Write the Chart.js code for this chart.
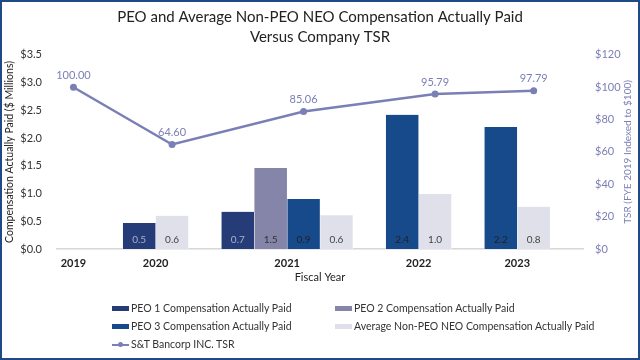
<!DOCTYPE html>
<html>
<head>
<meta charset="utf-8">
<script src="https://cdn.jsdelivr.net/npm/chart.js@4.4.1/dist/chart.umd.min.js"></script>
<style>
  html, body { margin: 0; padding: 0; background: #fff; }
  #wrap { position: relative; width: 640px; height: 360px; overflow: hidden; font-family: Lato, "Open Sans", sans-serif; }
  #frame { position: absolute; left: 0; top: 0; width: 640px; height: 360px; box-sizing: border-box; border: 2px solid #1f4a86; pointer-events: none; }
  #legend { position: absolute; left: 0; top: 0; width: 640px; height: 360px; pointer-events: none; }
  .li { position: absolute; display: flex; align-items: center; font-size: 10.5px; color: #333; white-space: nowrap; height: 14px; }
  .sw { width: 17px; height: 5px; margin-right: 2px; }
  .ln { position: relative; width: 17px; height: 5px; margin-right: 2px; }
  .ln::before { content: ""; position: absolute; left: 0; right: 0; top: 2px; height: 2px; background: var(--c); }
  .ln::after { content: ""; position: absolute; left: 6px; top: 0; width: 5px; height: 5px; border-radius: 50%; background: var(--c); }
</style>
</head>
<body>
<div id="wrap">
  <canvas id="c" width="640" height="360"></canvas>
  <div id="legend"></div>
  <div id="frame"></div>
</div>
<script>
// ---- data ----
const years = ["2019", "2020", "2021", "2022", "2023"];
const peo1 = [null, 0.47, 0.67, null, null];
const peo2 = [null, null, 1.46, null, null];
const peo3 = [null, null, 0.9, 2.42, 2.2];
const nonPeo = [null, 0.6, 0.61, 0.99, 0.76];
const tsr = [100.00, 64.60, 85.06, 95.79, 97.79];
const seriesNames = [
  "PEO 1 Compensation Actually Paid",
  "PEO 2 Compensation Actually Paid",
  "PEO 3 Compensation Actually Paid",
  "Average Non-PEO NEO Compensation Actually Paid"
];
const tsrName = "S&T Bancorp INC. TSR";
const leftTicks = [0, 0.5, 1.0, 1.5, 2.0, 2.5, 3.0, 3.5];
const rightTicks = [0, 20, 40, 60, 80, 100, 120];
const rightTitle = "TSR (FYE 2019 Indexed to $100)";

// ---- styles ----
const barColors = ["#253c78", "#8485a9", "#174a8b", "#e0e0ea"];
const barLabelColors = ["#aab0c8", "#333333", "#222222", "#444444"];
const lineColor = "#7a7fb5";
const FONT = "Lato, 'Open Sans', sans-serif";

// ---- layout of bars into slots (each year's present bars side by side, one gap slot after) ----
const series = [peo1, peo2, peo3, nonPeo];
const barData = series.map(() => []);
const centers = [];
const tsrX = [];
let slot = 0;
years.forEach((y, i) => {
  const start = slot;
  let k = 0;
  series.forEach((s, j) => {
    if (s[i] != null) { barData[j].push({ x: start + k, y: s[i] }); k++; }
  });
  const n = Math.max(1, k);
  const center = start + (n - 1) / 2;
  centers.push(center);
  tsrX.push(Math.ceil(center));
  slot += n + 1;
});
const xMin = -0.5, xMax = slot - 0.5;

const datasets = series.map((s, j) => ({
  type: "bar",
  label: seriesNames[j],
  data: barData[j],
  backgroundColor: barColors[j],
  borderColor: "#ffffff",
  borderWidth: { left: 0.5, right: 0.5, top: 0, bottom: 0 },
  barPercentage: 1,
  categoryPercentage: 1,
  grouped: false,
  yAxisID: "y",
  order: 1,
  labelColor: barLabelColors[j]
}));
datasets.push({
  type: "line",
  label: tsrName,
  data: tsr.map((v, i) => ({ x: tsrX[i], y: v })),
  borderColor: lineColor,
  backgroundColor: lineColor,
  borderWidth: 2.5,
  pointRadius: 3.5,
  pointBackgroundColor: lineColor,
  pointBorderWidth: 0,
  tension: 0,
  yAxisID: "y2",
  order: 0
});

const labelPlugin = {
  id: "valueLabels",
  afterDatasetsDraw(chart) {
    const ctx = chart.ctx;
    ctx.save();
    ctx.textAlign = "center";
    ctx.textBaseline = "middle";
    chart.data.datasets.forEach((ds, di) => {
      const meta = chart.getDatasetMeta(di);
      meta.data.forEach((el, i) => {
        const v = ds.data[i].y;
        if (ds.type === "bar") {
          ctx.font = "10px " + FONT;
          ctx.fillStyle = ds.labelColor;
          ctx.fillText(v.toFixed(1), el.x, chart.scales.y.getPixelForValue(0) - 9);
        } else {
          ctx.font = "11px " + FONT;
          ctx.fillStyle = lineColor;
          ctx.fillText(v.toFixed(2), el.x, el.y - 12);
        }
      });
    });
    // right axis title, reading bottom-to-top
    const ca = chart.chartArea;
    ctx.translate(628, (ca.top + ca.bottom) / 2);
    ctx.rotate(-Math.PI / 2);
    ctx.font = "10px " + FONT;
    ctx.fillStyle = lineColor;
    ctx.fillText(rightTitle, 0, 0);
    ctx.restore();
  }
};

const chart = new Chart(document.getElementById("c"), {
  data: { datasets },
  options: {
    responsive: false,
    animation: false,
    devicePixelRatio: 1,
    layout: { padding: { left: 0, right: 0, top: 0, bottom: 71 } },
    plugins: {
      legend: { display: false },
      tooltip: { enabled: false },
      title: {
        display: true,
        text: ["PEO and Average Non-PEO NEO Compensation Actually Paid", "Versus Company TSR"],
        color: "#222",
        font: { family: FONT, size: 15, weight: "normal", lineHeight: 1.33 },
        padding: { top: 7, bottom: 8 }
      }
    },
    scales: {
      x: {
        type: "linear",
        offset: false,
        min: xMin,
        max: xMax,
        afterBuildTicks: (scale) => { scale.ticks = centers.map(v => ({ value: v })); },
        afterFit: (scale) => { scale.height = 40; },
        ticks: {
          autoSkip: false,
          maxRotation: 0,
          padding: 8,
          color: "#222",
          font: { family: FONT, size: 11, weight: "bold" },
          callback: (v, i) => years[i]
        },
        grid: { display: false, drawTicks: false, offset: false },
        border: { display: true, color: "#d6d6d6", width: 1.5 },
        title: {
          display: true,
          text: "Fiscal Year",
          color: "#222",
          font: { family: FONT, size: 11 },
          padding: { top: 0, bottom: 5 }
        }
      },
      y: {
        position: "left",
        min: 0,
        max: 3.5,
        afterBuildTicks: (scale) => { scale.ticks = leftTicks.map(v => ({ value: v })); },
        afterFit: (scale) => { scale.width = 57; },
        ticks: {
          padding: 15,
          color: "#333",
          font: { family: FONT, size: 11 },
          callback: (v) => "$" + Number(v).toFixed(1)
        },
        grid: { display: false, drawTicks: false },
        border: { display: false },
        title: {
          display: true,
          text: "Compensation Actually Paid ($ Millions)",
          color: "#222",
          font: { family: FONT, size: 10.5 },
          padding: { top: 3, bottom: 0 }
        }
      },
      y2: {
        position: "right",
        min: 0,
        max: 120,
        afterBuildTicks: (scale) => { scale.ticks = rightTicks.map(v => ({ value: v })); },
        afterFit: (scale) => { scale.width = 57; },
        ticks: {
          padding: 12,
          color: lineColor,
          font: { family: FONT, size: 11 },
          callback: (v) => "$" + v
        },
        grid: { display: false, drawTicks: false },
        border: { display: false },
        title: { display: false }
      }
    }
  },
  plugins: [labelPlugin]
});

// ---- legend (built from the datasets) ----
const legendEl = document.getElementById("legend");
const colX = [112, 335];
const rowY = [301, 319, 337];
chart.data.datasets.forEach((ds, i) => {
  const item = document.createElement("div");
  item.className = "li";
  item.style.left = colX[i % 2] + "px";
  item.style.top = rowY[Math.floor(i / 2)] + "px";
  const sw = document.createElement("span");
  if (ds.type === "line") {
    sw.className = "ln";
    sw.style.setProperty("--c", ds.borderColor);
  } else {
    sw.className = "sw";
    sw.style.background = ds.backgroundColor;
  }
  const t = document.createElement("span");
  t.textContent = ds.label;
  item.appendChild(sw);
  item.appendChild(t);
  legendEl.appendChild(item);
});
</script>
</body>
</html>
